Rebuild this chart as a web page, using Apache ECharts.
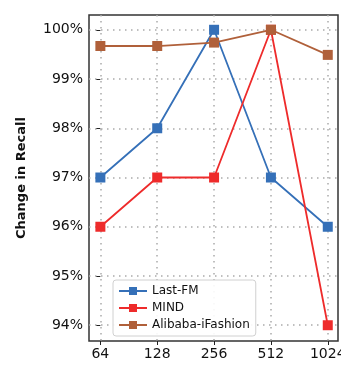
<!DOCTYPE html>
<html>
<head>
<meta charset="utf-8">
<script src="https://cdn.jsdelivr.net/npm/echarts@6/dist/echarts.min.js"></script>
<style>
  html, body { margin: 0; padding: 0; background: #fff; }
  #chart { width: 341px; height: 366px; }
</style>
</head>
<body>
<div id="chart"></div>
<script>
// Embedding size on the x axis, recall change (%) per dataset
const sizes = ['64', '128', '256', '512', '1024'];
const lastFM = [97, 98, 100, 97, 96];
const mind = [96, 97, 97, 100, 94];
const alibaba = [99.67, 99.67, 99.74, 100, 99.49];
const yTicks = [94, 95, 96, 97, 98, 99, 100];

const xIdx = sizes.map((_, i) => i);
const toPts = arr => arr.map((v, i) => [i, v]);

const font = 'DejaVu Sans';
const dotted = { color: '#ababab', width: 1.5, type: [1.5, 4.5] };

const mkSeries = (name, data, color) => ({
  name,
  type: 'line',
  data: toPts(data),
  symbol: 'rect',
  symbolSize: 10,
  lineStyle: { color, width: 1.8 },
  itemStyle: { color },
  z: 3
});

const chart = echarts.init(document.getElementById('chart'), null, { renderer: 'canvas' });
chart.setOption({
  animation: false,
  grid: {
    left: 89, top: 15, right: 3, bottom: 25,
    outerBoundsMode: 'none',
    containLabel: false,
    show: true, borderColor: '#333', borderWidth: 1.5, backgroundColor: 'transparent'
  },
  xAxis: {
    type: 'value',
    min: -0.2, max: 4.18,
    axisLine: { show: false },
    axisTick: { show: true, customValues: xIdx, length: 4, lineStyle: { color: '#222' } },
    axisLabel: {
      customValues: xIdx,
      formatter: v => sizes[Math.round(v)],
      fontFamily: font, fontSize: 14, color: '#111', margin: 6,
      hideOverlap: false
    },
    splitLine: { show: true, lineStyle: dotted }
  },
  yAxis: {
    type: 'value',
    min: 93.68, max: 100.3,
    name: 'Change in Recall',
    nameLocation: 'middle',
    nameGap: 61,
    nameTextStyle: { fontFamily: font, fontSize: 13, color: '#111', fontWeight: 'bold' },
    axisLine: { show: false },
    axisTick: { show: true, customValues: yTicks, length: 4, lineStyle: { color: '#222' } },
    axisLabel: {
      customValues: yTicks,
      formatter: v => Math.round(v) + '%',
      fontFamily: font, fontSize: 14, color: '#111', margin: 6
    },
    splitLine: { show: true, lineStyle: dotted }
  },
  legend: {
    orient: 'vertical',
    left: 113, top: 280,
    itemWidth: 28, itemHeight: 10, itemGap: 5,
    padding: [5, 6, 5, 5],
    borderColor: '#d0d0d0', borderWidth: 1, borderRadius: 3,
    backgroundColor: 'rgba(255,255,255,0.9)',
    textStyle: { fontFamily: font, fontSize: 12, color: '#111' },
    data: ['Last-FM', 'MIND', 'Alibaba-iFashion']
  },
  series: [
    mkSeries('Last-FM', lastFM, '#3570b8'),
    mkSeries('MIND', mind, '#ee2b2b'),
    mkSeries('Alibaba-iFashion', alibaba, '#b0603a')
  ]
});
</script>
</body>
</html>
